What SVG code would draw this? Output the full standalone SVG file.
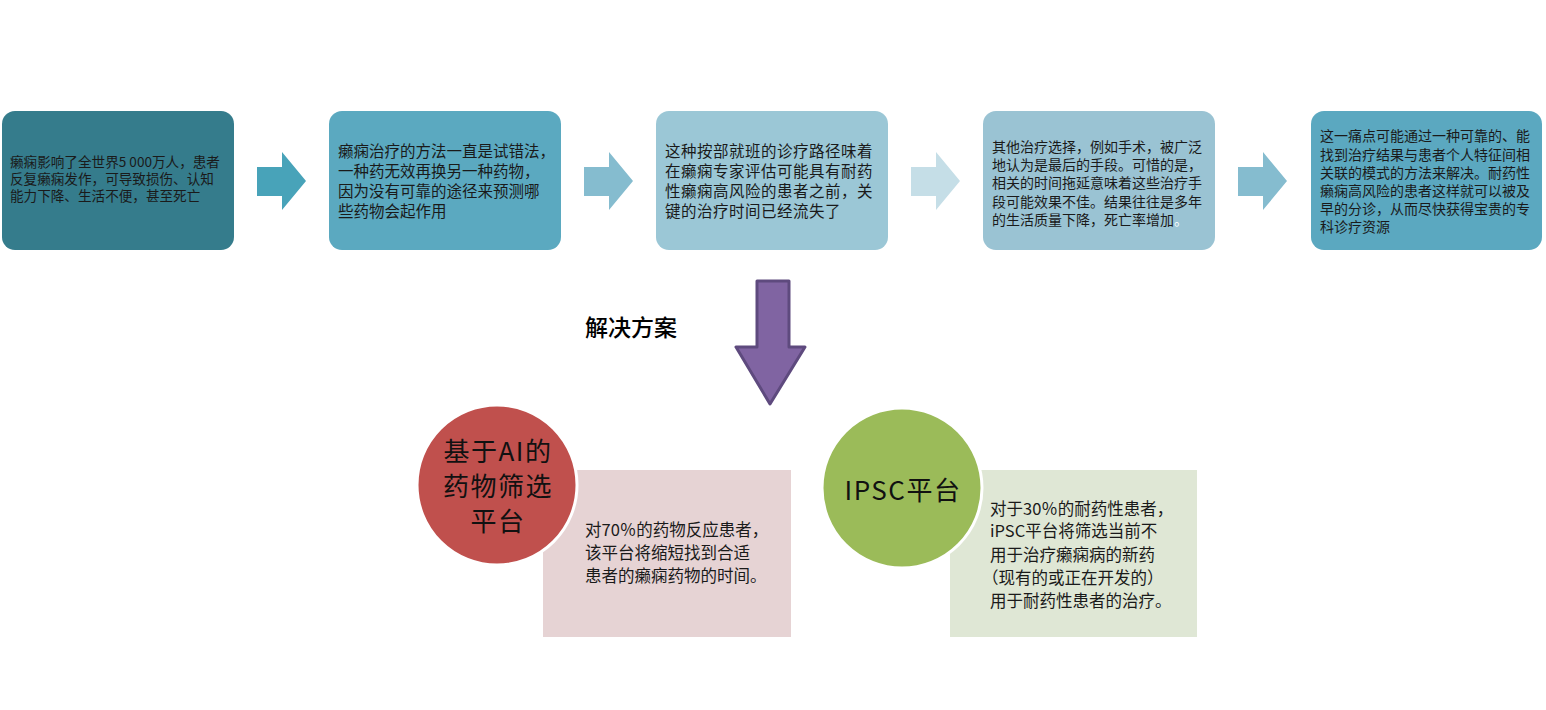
<svg xmlns="http://www.w3.org/2000/svg" width="1546" height="710" viewBox="0 0 1546 710">
<style>
text{font-family:"Noto Sans CJK SC","Noto Sans",sans-serif;fill:#1a1a1a}
.t13{font-size:13.6px}.t14{font-size:14px}.t155{font-size:15.5px}.t16{font-size:15.5px;letter-spacing:0.5px}.t165{font-size:16.5px}
.ct{font-size:26px;letter-spacing:1.5px;text-anchor:middle;fill:#111}
</style>
<rect width="1546" height="710" fill="#ffffff"/>
<g id="step1">
<rect x="2" y="111" width="232" height="139" rx="13" fill="#357C8C"/>
<text class="t13"><tspan x="10" y="167">癞痫影响了全世界5 000万人，患者</tspan><tspan x="10" y="184">反复癞痫发作，可导致损伤、认知</tspan><tspan x="10" y="201">能力下降、生活不便，甚至死亡</tspan></text>
</g>
<g id="step2">
<rect x="329" y="111" width="232" height="139" rx="13" fill="#5BA9C0"/>
<text class="t155"><tspan x="338" y="157">癞痫治疗的方法一直是试错法，</tspan><tspan x="338" y="177">一种药无效再换另一种药物，</tspan><tspan x="338" y="197">因为没有可靠的途径来预测哪</tspan><tspan x="338" y="217">些药物会起作用</tspan></text>
</g>
<g id="step3">
<rect x="656" y="111" width="232" height="139" rx="13" fill="#9BC7D6"/>
<text class="t16"><tspan x="665" y="157">这种按部就班的诊疗路径味着</tspan><tspan x="665" y="177">在癞痫专家评估可能具有耐药</tspan><tspan x="665" y="197">性癞痫高风险的患者之前，关</tspan><tspan x="665" y="217">键的治疗时间已经流失了</tspan></text>
</g>
<g id="step4">
<rect x="983" y="111" width="232" height="139" rx="13" fill="#9AC3D3"/>
<text class="t14"><tspan x="992" y="152">其他治疗选择，例如手术，被广泛</tspan><tspan x="992" y="170">地认为是最后的手段。可惜的是，</tspan><tspan x="992" y="188">相关的时间拖延意味着这些治疗手</tspan><tspan x="992" y="207">段可能效果不佳。结果往往是多年</tspan><tspan x="992" y="225">的生活质量下降，死亡率增加<tspan fill="#ffffff">。</tspan></tspan></text>
</g>
<g id="step5">
<rect x="1311" y="111" width="231" height="139" rx="13" fill="#5BA8C0"/>
<text class="t14"><tspan x="1320" y="141">这一痛点可能通过一种可靠的、能</tspan><tspan x="1320" y="160">找到治疗结果与患者个人特征间相</tspan><tspan x="1320" y="178">关联的模式的方法来解决。耐药性</tspan><tspan x="1320" y="196">癞痫高风险的患者这样就可以被及</tspan><tspan x="1320" y="214">早的分诊，从而尽快获得宝贵的专</tspan><tspan x="1320" y="232">科诊疗资源</tspan></text>
</g>
<g id="connectors">
<polygon points="257,167 282,167 282,152 306,181 282,210 282,196 257,196" fill="#48A3B9"/>
<polygon points="584,167 609,167 609,152 633,181 609,210 609,196 584,196" fill="#85BCCF"/>
<polygon points="911,167 936,167 936,152 960,181 936,210 936,196 911,196" fill="#C5DEE7"/>
<polygon points="1238,167 1263,167 1263,152 1287,181 1263,210 1263,196 1238,196" fill="#85BCCF"/>
<polygon points="757,281 789,281 789,347 805,347 770,404 736,347 757,347" fill="#8064A2" stroke="#5E4A7E" stroke-width="3" stroke-linejoin="round"/>
</g>
<g id="solution-label">
<text x="585" y="336" style="font-size:23px;font-weight:500;fill:#000">解决方案</text>
</g>
<g id="ai-platform">
<rect x="543" y="470" width="248" height="167" fill="#E6D3D4"/>
<circle cx="497" cy="485" r="80" fill="#C0504D" stroke="#ffffff" stroke-width="3"/>
<text class="ct"><tspan x="498" y="461">基于AI的</tspan><tspan x="498" y="496">药物筛选</tspan><tspan x="498" y="531">平台</tspan></text>
<text class="t165"><tspan x="585" y="536">对70％的药物反应患者，</tspan><tspan x="585" y="559">该平台将缩短找到合适</tspan><tspan x="585" y="582">患者的癞痫药物的时间。</tspan></text>
</g>
<g id="ipsc-platform">
<rect x="950" y="470" width="247" height="167" fill="#DFE7D5"/>
<circle cx="902" cy="488" r="80" fill="#9BBB59" stroke="#ffffff" stroke-width="3"/>
<text class="ct" x="903" y="500">IPSC平台</text>
<text class="t165"><tspan x="990" y="515">对于30％的耐药性患者，</tspan><tspan x="990" y="537">iPSC平台将筛选当前不</tspan><tspan x="990" y="561">用于治疗癞痫病的新药</tspan><tspan x="982" y="584">（现有的或正在开发的）</tspan><tspan x="990" y="607">用于耐药性患者的治疗。</tspan></text>
</g>
</svg>
